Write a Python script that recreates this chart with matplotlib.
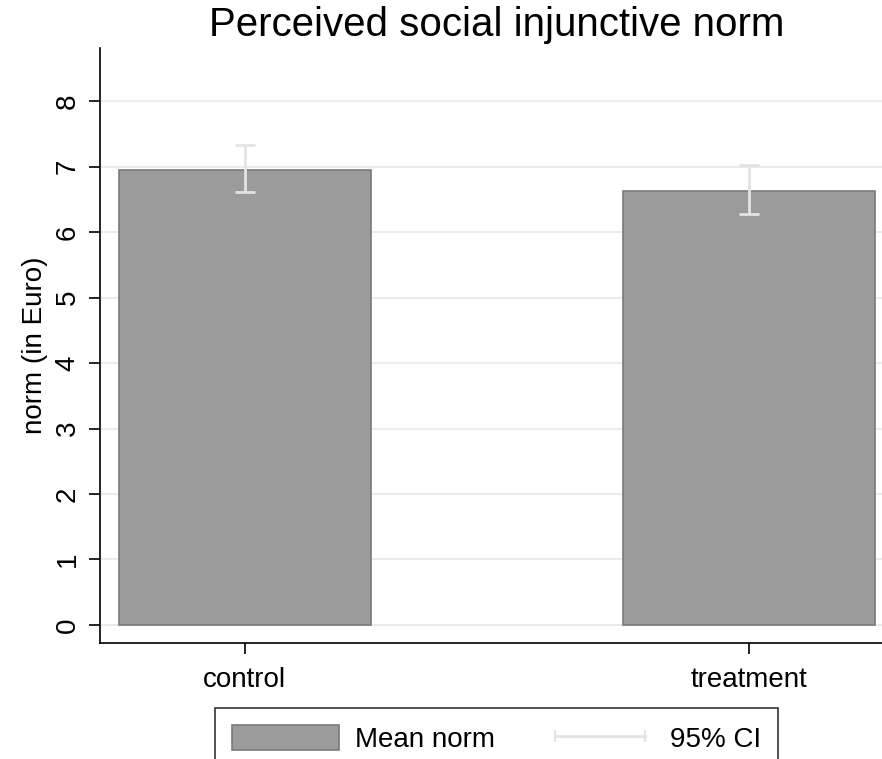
import matplotlib
matplotlib.use('Agg')
import matplotlib.pyplot as plt
from matplotlib.patches import Patch
from matplotlib.lines import Line2D

plt.rcParams['font.family'] = ['Liberation Sans', 'DejaVu Sans']

# data
groups = ['control', 'treatment']
mean_norm = [6.95, 6.63]
ci_low = [6.61, 6.27]
ci_high = [7.33, 7.02]

bar_color = '#9b9b9b'
edge_color = '#7a7a7a'
ci_color = '#e3e3e3'

fig = plt.figure(figsize=(8.82, 7.59), dpi=100)
ax = fig.add_axes([100 / 882, 116 / 759, 782 / 882, 595 / 759])

xpos = list(range(len(groups)))
ax.bar(xpos, mean_norm, width=0.5, color=bar_color, edgecolor=edge_color, linewidth=1.2, zorder=2)
yerr = [[m - lo for m, lo in zip(mean_norm, ci_low)], [hi - m for m, hi in zip(mean_norm, ci_high)]]
ax.errorbar(xpos, mean_norm, yerr=yerr, fmt='none', ecolor=ci_color, elinewidth=2, capsize=7, capthick=2, zorder=3)

ax.set_xlim(-0.287, 1.263)
ax.set_ylim(-0.275, 8.81)
ax.set_xticks(xpos)
ax.set_xticklabels(groups, fontsize=20)
ax.set_yticks(range(0, 9))
ax.set_yticklabels([str(i) for i in range(0, 9)], fontsize=20, rotation=90, va='center')
ax.tick_params(axis='both', length=8, width=1.2, pad=6)
ax.tick_params(axis='x', pad=9.5)
ax.set_ylabel('norm (in Euro)', fontsize=20, labelpad=5)
ax.yaxis.grid(True, color='#ebebeb', linewidth=1.5, zorder=0)
ax.set_axisbelow(True)
for s in ['top', 'right']:
    ax.spines[s].set_visible(False)
for s in ['left', 'bottom']:
    ax.spines[s].set_linewidth(1.2)

fig.text(497 / 882, 1 - 25 / 759, 'Perceived social injunctive norm', fontsize=29, ha='center', va='center')

handles = [Patch(facecolor=bar_color, edgecolor=edge_color, linewidth=1.2),
           Line2D([0], [0], color=ci_color, linewidth=2, marker='|', markersize=9, markeredgewidth=1.5)]
leg = fig.legend(handles, ['Mean norm', '95% CI'], loc='upper left', bbox_to_anchor=(215 / 882, 1 - 708 / 759),
                 ncol=2, fontsize=20, frameon=True, fancybox=False, edgecolor='black', handlelength=3.85,
                 handleheight=1.0, numpoints=2, columnspacing=1.85, handletextpad=0.6, borderpad=0.6,
                 borderaxespad=0)
leg.get_frame().set_linewidth(1.2)

fig.savefig('out.png', dpi=100)
